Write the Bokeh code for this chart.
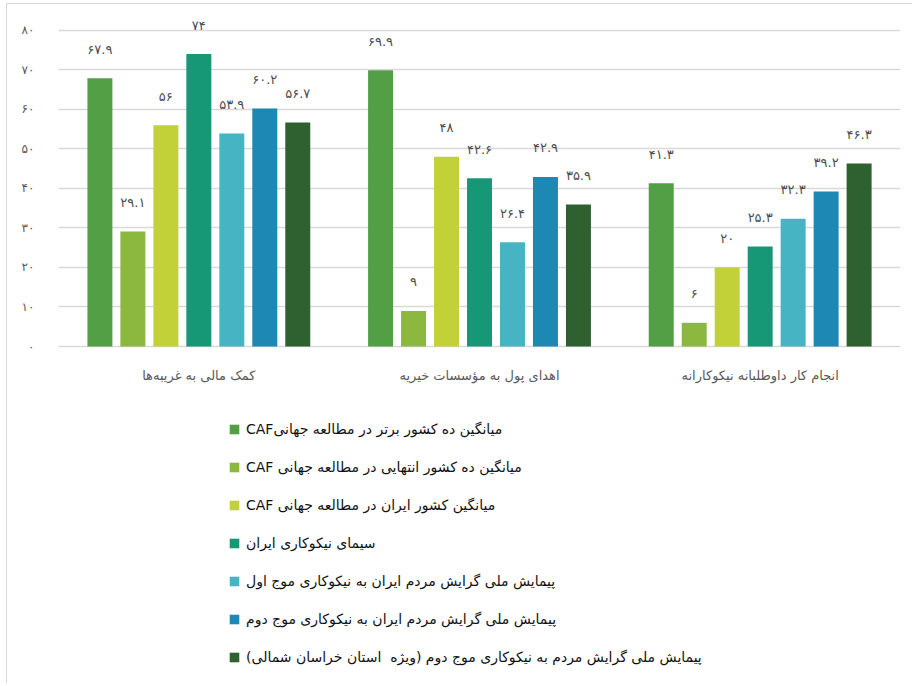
from bokeh.plotting import figure
from bokeh.models import ColumnDataSource, FactorRange, FixedTicker, Legend, LegendItem, Range1d
from bokeh.transform import dodge
from bokeh.core.properties import value
from bokeh.embed import file_html
from bokeh.resources import INLINE

# ---------------- data ----------------
categories = ["کمک مالی به غریبه‌ها", "اهدای پول به مؤسسات خیریه", "انجام کار داوطلبانه نیکوکارانه"]

series_names = [
    "میانگین ده کشور برتر در مطالعه جهانیCAF",
    "میانگین ده کشور انتهایی در مطالعه جهانی CAF",
    "میانگین کشور ایران در مطالعه جهانی CAF",
    "سیمای نیکوکاری ایران",
    "پیمایش ملی گرایش مردم ایران به نیکوکاری موج اول",
    "پیمایش ملی گرایش مردم ایران به نیکوکاری موج دوم",
    "پیمایش ملی گرایش مردم به نیکوکاری موج دوم (ویژه  استان خراسان شمالی)",
]

top10 = [67.9, 69.9, 41.3]
bottom10 = [29.1, 9, 6]
iran_caf = [56, 48, 20]
simaye = [74, 42.6, 25.3]
wave1 = [53.9, 26.4, 32.3]
wave2 = [60.2, 42.9, 39.2]
wave2_khorasan = [56.7, 35.9, 46.3]

y_ticks = [0, 10, 20, 30, 40, 50, 60, 70, 80]
y_tick_labels = ["۰", "۱۰", "۲۰", "۳۰", "۴۰", "۵۰", "۶۰", "۷۰", "۸۰"]

colors = ["#539F46", "#8CB83F", "#C2D138", "#169776", "#46B4C3", "#1D88B3", "#2F602F"]

# --------------- build ---------------
all_series = [top10, bottom10, iran_caf, simaye, wave1, wave2, wave2_khorasan]
FA = str.maketrans("0123456789", "۰۱۲۳۴۵۶۷۸۹")

data = {"cat": categories, "base": [0] * len(categories)}
for i, s in enumerate(all_series):
    data[f"s{i}"] = s
    data[f"l{i}"] = [f"{v:g}".translate(FA) for v in s]
source = ColumnDataSource(data)

FONT = "DejaVu Sans"
GRAY = "#4d4d4d"

p = figure(
    width=906, height=680,
    x_range=FactorRange(*categories, range_padding=0),
    y_range=Range1d(-84.75, 84),
    output_backend="svg", toolbar_location=None,
    min_border_left=51, min_border_right=13, min_border_top=10, min_border_bottom=3,
)
p.outline_line_color = None
p.styles = {"border-left": "1px solid #d9d9d9", "border-top": "1px solid #d9d9d9",
            "margin-left": "6px", "margin-top": "3px"}

pitch = 0.1175
bar_w = 0.089
items = []
for i in range(7):
    off = (i - 3) * pitch
    r = p.vbar(x=dodge("cat", off, range=p.x_range), top=f"s{i}", width=bar_w,
               source=source, fill_color=colors[i], line_color=None)
    p.text(x=dodge("cat", off, range=p.x_range), y=f"s{i}", text=f"l{i}", source=source,
           text_align="center", text_baseline="middle", y_offset=-29,
           text_font=value(FONT), text_font_size="13px", text_color=GRAY)
    items.append(LegendItem(label="\u202b" + series_names[i] + "\u202c", renderers=[r]))

# category labels under the baseline
p.text(x="cat", y="base", text="cat", source=source, text_align="center",
       text_baseline="middle", y_offset=29, text_font=value(FONT),
       text_font_size="13px", text_color="#595959")

legend = Legend(items=items, location=(170, 16), orientation="vertical",
                glyph_width=12, glyph_height=12, label_standoff=6, spacing=22,
                padding=0, margin=0, border_line_color=None, background_fill_alpha=0,
                label_text_font=FONT, label_text_font_size="14px", label_text_color="#111111",
                label_height=16)
p.add_layout(legend)

# axes
p.xaxis.visible = False

p.yaxis.ticker = FixedTicker(ticks=y_ticks)
p.yaxis.major_label_overrides = dict(zip(y_ticks, y_tick_labels))
p.yaxis.axis_line_color = None
p.yaxis.major_tick_line_color = None
p.yaxis.minor_tick_line_color = None
p.yaxis.major_label_standoff = 18
p.yaxis.major_label_text_font = FONT
p.yaxis.major_label_text_font_size = "12px"
p.yaxis.major_label_text_color = "#595959"

p.xgrid.grid_line_color = None
p.ygrid.ticker = FixedTicker(ticks=y_ticks)
p.ygrid.grid_line_color = "#d9d9d9"
p.ygrid.grid_line_width = 1.3

open("out.html", "w").write(file_html(p, INLINE))
